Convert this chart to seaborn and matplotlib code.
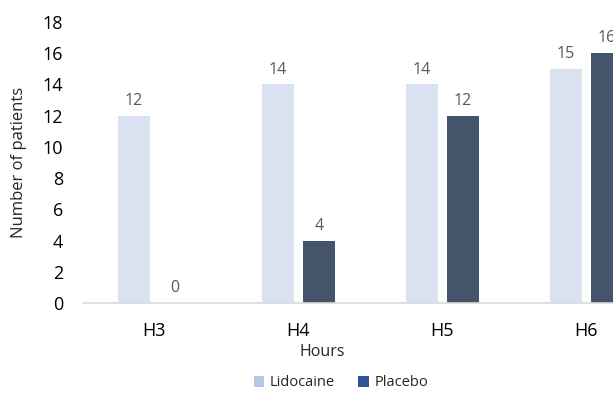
import matplotlib
matplotlib.use("Agg")
import matplotlib.pyplot as plt
from matplotlib.patches import Patch
import seaborn as sns
import pandas as pd

hours = ["H3", "H4", "H5", "H6"]
lidocaine = [12, 14, 14, 15]
placebo = [0, 4, 12, 16]
groups = ["Lidocaine", "Placebo"]

bar_colors = {"Lidocaine": "#dae2f2", "Placebo": "#44546a"}
legend_colors = {"Lidocaine": "#b4c7e7", "Placebo": "#2f5597"}

df = pd.DataFrame({
    "Hours": hours * 2,
    "Group": [groups[0]] * len(hours) + [groups[1]] * len(hours),
    "Patients": lidocaine + placebo,
})

sns.set_theme(style="white")
plt.rcParams["font.family"] = ["Open Sans", "DejaVu Sans"]

W, H = 613, 394
fig = plt.figure(figsize=(W / 100, H / 100), dpi=100)
# axes span wider than the canvas on the right
ax = fig.add_axes([82.5 / W, (H - 303) / H, 576 / W, 281 / H])

sns.barplot(data=df, x="Hours", y="Patients", hue="Group", order=hours,
            hue_order=groups, palette=bar_colors, width=0.57, gap=0.22,
            saturation=1, linewidth=0, legend=False, ax=ax)

ax.set_xlim(-0.5, 3.5)
ax.set_ylim(0, 18)
ax.set_yticks(range(0, 19, 2))
ax.tick_params(axis="both", length=0, labelsize=13, colors="#000000")
ax.tick_params(axis="y", pad=14)
ax.tick_params(axis="x", pad=14)
for s in ["top", "right", "left"]:
    ax.spines[s].set_visible(False)
ax.spines["bottom"].set_color("#d9d9d9")
ax.spines["bottom"].set_linewidth(1.2)
ax.set_xlabel("")
ax.set_ylabel("Number of patients", fontsize=12)
ax.yaxis.set_label_coords(-55 / 576, 0.5)

for cont in ax.containers:
    for bar in cont:
        v = bar.get_height()
        ax.annotate(f"{v:.0f}", (bar.get_x() + bar.get_width() / 2, v),
                    xytext=(0, 5), textcoords="offset points",
                    ha="center", va="bottom", fontsize=11.5, color="#595959")

fig.text(322 / W, 1 - 352 / H, "Hours", ha="center", va="center", fontsize=11.5)

handles = [Patch(facecolor=legend_colors[g], edgecolor="none", label=g) for g in groups]
fig.legend(handles=handles, loc="center", bbox_to_anchor=(341 / W, 1 - 383 / H),
           ncol=2, frameon=False, fontsize=10.5, handlelength=0.7, handleheight=0.7,
           handletextpad=0.4, columnspacing=1.6)

fig.savefig("out.png", dpi=100)
